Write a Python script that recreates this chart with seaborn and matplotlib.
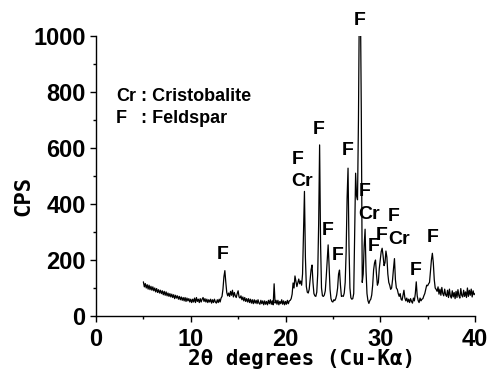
import numpy as np
import pandas as pd
import matplotlib
matplotlib.use("Agg")
import matplotlib.pyplot as plt
import seaborn as sns

# Diffraction scan: 2-theta from 5 to 40 degrees in 0.1 degree steps
two_theta = np.round(np.arange(5.0, 40.0001, 0.1), 1)

cps = [
    # 5.x
    122, 104, 116, 100, 112, 96, 110, 94, 106, 92,
    # 6.x
    104, 90, 100, 86, 98, 84, 94, 82, 92, 80,
    # 7.x
    90, 76, 88, 74, 86, 72, 82, 70, 80, 68,
    # 8.x
    78, 66, 76, 62, 74, 64, 72, 60, 70, 58,
    # 9.x
    68, 56, 66, 54, 66, 52, 64, 54, 62, 50,
    # 10.x
    60, 48, 60, 50, 64, 48, 66, 52, 60, 48,
    # 11.x
    62, 50, 60, 66, 52, 62, 50, 60, 48, 58,
    # 12.x
    50, 60, 46, 58, 48, 60, 50, 46, 58, 48,
    # 13.x
    60, 50, 64, 70, 96, 140, 162, 120, 84, 72,
    # 14.x
    82, 70, 88, 74, 92, 68, 84, 72, 66, 80,
    # 15.x
    90, 68, 64, 72, 58, 68, 54, 66, 52, 62,
    # 16.x
    50, 62, 48, 60, 46, 58, 44, 58, 46, 56,
    # 17.x
    44, 58, 46, 42, 56, 44, 54, 40, 54, 42,
    # 18.x
    52, 40, 56, 44, 58, 42, 54, 40, 115, 46,
    # 19.x
    56, 42, 56, 40, 52, 44, 58, 42, 54, 40,
    # 20.x
    52, 42, 56, 44, 54, 56, 62, 78, 118, 100,
    # 21.x
    143, 125, 105, 118, 132, 115, 125, 110, 150, 300,
    # 22.x
    445, 210, 105, 85, 82, 95, 130, 165, 182, 120,
    # 23.x
    80, 72, 70, 85, 150, 330, 611, 260, 100, 72,
    # 24.x
    70, 75, 90, 140, 200, 254, 180, 95, 62, 52,
    # 25.x
    50, 58, 55, 62, 75, 100, 150, 164, 110, 70,
    # 26.x
    72, 70, 82, 120, 230, 420, 528, 250, 100, 65,
    # 27.x
    60, 62, 80, 300, 510, 430, 415, 700, 1150, 1150,
    # 28.x
    730, 120, 150, 250, 310, 160, 80, 55, 45, 55,
    # 29.x
    60, 75, 110, 165, 190, 200, 150, 110, 120, 170,
    # 30.x
    200, 230, 242, 215, 180, 190, 232, 210, 150, 120,
    # 31.x
    110, 95, 100, 130, 170, 205, 130, 100, 95, 80,
    # 32.x
    70, 80, 60, 56, 74, 92, 64, 54, 64, 50,
    # 33.x
    60, 48, 62, 52, 46, 64, 54, 80, 122, 72,
    # 34.x
    55, 48, 64, 54, 60, 62, 72, 80, 95, 110,
    # 35.x
    108, 115, 120, 160, 200, 224, 190, 130, 100, 95,
    # 36.x
    88, 104, 78, 96, 74, 102, 80, 72, 96, 76,
    # 37.x
    70, 92, 66, 96, 72, 64, 90, 68, 84, 62,
    # 38.x
    88, 66, 94, 72, 64, 98, 74, 68, 92, 70,
    # 39.x
    86, 66, 100, 70, 92, 74, 96, 68, 90, 76,
    # 40.0
    80,
]

# Phase labels above the reflections: (text, 2-theta, CPS)
peak_labels = [
    ("F", 13.4, 218),
    ("F", 21.3, 560), ("Cr", 21.75, 480),
    ("F", 23.46, 667),
    ("F", 24.49, 304),
    ("F", 25.54, 215),
    ("F", 26.52, 590),
    ("F", 27.86, 1057),
    ("F", 28.32, 444), ("Cr", 28.84, 361),
    ("F", 29.27, 248),
    ("F", 30.15, 289),
    ("F", 31.38, 355), ("Cr", 31.95, 274),
    ("F", 33.77, 164),
    ("F", 35.54, 281),
]

df = pd.DataFrame({"two_theta": two_theta, "cps": cps})

sns.set_style("ticks")
sans = ["Liberation Sans", "DejaVu Sans"]
mono = ["DejaVu Sans Mono"]
plt.rcParams["font.family"] = sans

fig = plt.figure(figsize=(4.87, 3.83), dpi=100)
ax = fig.add_axes([96 / 487, 67 / 383, 379 / 487, 280 / 383])

sns.lineplot(data=df, x="two_theta", y="cps", ax=ax, color="black",
             linewidth=0.9, sort=False, estimator=None)

ax.set_xlim(0, 40)
ax.set_ylim(0, 1000)
ax.set_xticks([0, 10, 20, 30, 40])
ax.set_xticks([5, 15, 25, 35], minor=True)
ax.set_yticks([0, 200, 400, 600, 800, 1000])
ax.set_yticks([100, 300, 500, 700, 900], minor=True)

for side in ("top", "right"):
    ax.spines[side].set_visible(False)
for side in ("left", "bottom"):
    ax.spines[side].set_linewidth(1.0)
    ax.spines[side].set_color("black")

ax.tick_params(axis="both", which="major", direction="out", length=4.5,
               width=1.0, colors="black", labelsize=17)
ax.tick_params(axis="x", which="major", pad=4)
ax.tick_params(axis="y", which="major", pad=3)
ax.tick_params(axis="both", which="minor", direction="out", length=2.5,
               width=1.0, colors="black")
for lab in ax.get_xticklabels() + ax.get_yticklabels():
    lab.set_fontweight("bold")
    lab.set_family(sans)

ax.set_xlabel("2θ degrees (Cu-Kα)", family=mono, fontsize=15,
              fontweight="bold", color="black")
ax.xaxis.set_label_coords((301.5 - 96) / 379, -0.118)
ax.set_ylabel("CPS", family=mono, fontsize=16, fontweight="bold",
              color="black")
ax.yaxis.set_label_coords((33 - 96) / 379, 0.43)

# Phase key
key_font = dict(family=sans, fontsize=13, fontweight="bold",
                color="black", transform=ax.transAxes, va="top")
ax.text((116 - 96) / 379, (316 - 88) / 280, "Cr", ha="left", **key_font)
ax.text((141 - 96) / 379, (316 - 88) / 280, ": Cristobalite", ha="left",
        **key_font)
ax.text((116 - 96) / 379, (316 - 110) / 280, "F", ha="left", **key_font)
ax.text((141 - 96) / 379, (316 - 110) / 280, ": Feldspar", ha="left",
        **key_font)

for text, x, y in peak_labels:
    ax.text(x, y, text, ha="center", va="center", family=sans,
            fontsize=14, fontweight="bold", color="black", clip_on=False)

fig.savefig("out.png", dpi=100)
